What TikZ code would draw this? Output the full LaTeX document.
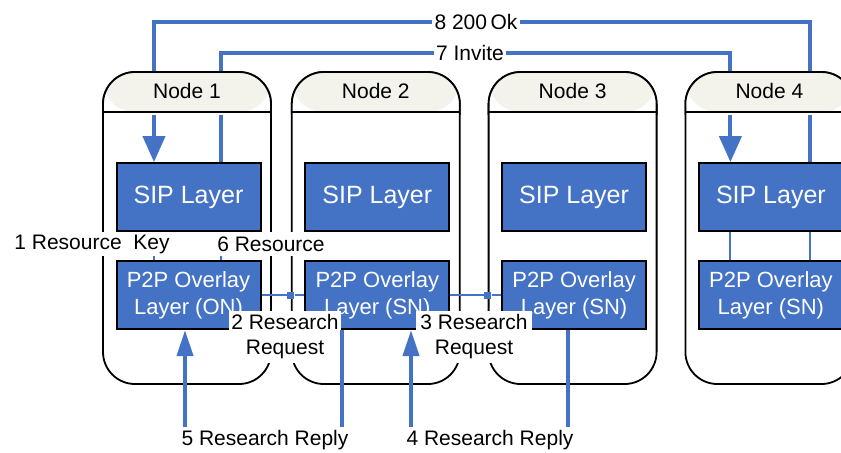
\documentclass[tikz,border=0pt]{standalone}
\usepackage{fontspec}
\setmainfont{Liberation Sans}
\usetikzlibrary{arrows.meta,positioning}

\definecolor{sipblue}{RGB}{68,114,196}
\definecolor{headgray}{RGB}{243,243,236}

\tikzset{
	host/.style={draw=black, line width=0.9pt, fill=white, rounded corners=16pt,
		minimum width=84pt, minimum height=156pt, inner sep=0pt,
		path picture={
			\fill[headgray] (path picture bounding box.north west) rectangle ([yshift=-20pt]path picture bounding box.north east);
			\draw[line width=0.9pt] ([yshift=-20pt]path picture bounding box.north west) -- ([yshift=-20pt]path picture bounding box.north east);}},
	hosttext/.style={font=\fontsize{10.5}{12}\selectfont},
	sip/.style={draw=black, line width=1pt, fill=sipblue, text=white, minimum width=72pt, minimum height=34pt,
		inner sep=0pt, font=\fontsize{12.5}{14}\selectfont},
	overlay/.style={sip, align=center, font=\fontsize{11}{13.5}\selectfont},
	msg/.style={fill=white, inner sep=1pt, font=\fontsize{10.5}{12.5}\selectfont, align=center},
	flow/.style={draw=sipblue, line width=2pt},
	link/.style={draw=sipblue, line width=1pt},
	port/.style={fill=sipblue, minimum size=3.5pt, inner sep=0pt},
	tip/.style={-{Triangle[length=13pt,width=11pt]}},
	smalltip/.style={-{Triangle[length=13pt,width=8pt]}}
}

\begin{document}
\begin{tikzpicture}[x=0.5pt, y=-0.5pt]
	\clip (0,0) rectangle (841,452);

	% the four hosts
	\node[host] (n1) at (187,228) {};
	\node[host] (n2) [right=9.5pt of n1] {};
	\node[host] (n3) [right=13.5pt of n2] {};
	\node[host] (n4) [right=13.5pt of n3] {};

	% layers
	\node[sip] (sip1) [below=45.5pt of n1.north, xshift=0.75pt] {SIP Layer};
	\node[sip] (sip2) [below=45.5pt of n2.north, xshift=0.75pt] {SIP Layer};
	\node[sip] (sip3) [below=45.5pt of n3.north, xshift=0.75pt] {SIP Layer};
	\node[sip] (sip4) [below=45.5pt of n4.north, xshift=0.75pt] {SIP Layer};

	\node[overlay] (p2p1) [below=14pt of sip1] {P2P Overlay\\Layer (ON)};
	\node[overlay] (p2p2) [below=14pt of sip2] {P2P Overlay\\Layer (SN)};
	\node[overlay] (p2p3) [below=14pt of sip3] {P2P Overlay\\Layer (SN)};
	\node[overlay] (p2p4) [below=14pt of sip4] {P2P Overlay\\Layer (SN)};

	% links inside the hosts
	\draw[link] ([xshift=-17.25pt]sip1.south) -- ([xshift=-17.25pt]p2p1.north);
	\draw[link] ([xshift=16.25pt]sip1.south) -- ([xshift=16.25pt]p2p1.north);
	\draw[link] ([xshift=-20.25pt]sip4.south) -- ([xshift=-20.25pt]p2p4.north);
	\draw[link] ([xshift=19.75pt]sip4.south) -- ([xshift=19.75pt]p2p4.north);

	% overlay links
	\node[port] (d2) at (n2.west |- p2p2) {};
	\node[port] (d3) at (n3.west |- p2p3) {};
	\draw[link] (p2p1.east) -- (d2) -- (p2p2.west);
	\draw[link] (p2p2.east) -- (d3) -- (p2p3.west);

	% messages
	\node[msg, minimum height=12pt] (rk) at (92,244) {1 Resource\ \ Key};
	\node[msg, minimum height=12pt] (rs) at (271,244) {6 Resource};
	\node[msg, minimum width=56pt, minimum height=26pt, inner sep=0pt] (rq2) at (285,337) {2 Research\\Request};
	\node[msg, minimum width=58pt, minimum height=26pt, inner sep=0pt] (rq3) at (474,337) {3 Research\\Request};
	\node[msg] (rp5) at (265,440) {5 Research Reply};
	\node[msg] (rp4) at (490,440) {4 Research Reply};
	\node[msg] (ok) at (476,22) {8 200\,Ok};
	\node[msg] (inv) at (470,53) {7 Invite};

	\draw[flow] ([xshift=19.75pt]sip4.north) |- (ok.east);
	\draw[flow, tip] (ok.west) -| ([xshift=-17.25pt]sip1.north);
	\draw[flow] ([xshift=16.25pt]sip1.north) |- (inv.west);
	\draw[flow, tip] (inv.east) -| ([xshift=-20.25pt]sip4.north);

	\coordinate (a5) at (185,427);
	\coordinate (b5) at (342,427);
	\coordinate (a4) at (411,427);
	\coordinate (b4) at (568,427);
	\draw[flow, smalltip] (a5) -- (a5 |- p2p1.south);
	\draw[flow] (p2p2.south -| b5) -- (b5);
	\draw[flow, smalltip] (a4) -- (a4 |- p2p2.south);
	\draw[flow] (p2p3.south -| b4) -- (b4);

	% headers go over the flows
	\begin{scope}
		\clip (0,0) rectangle (841,114);
		\foreach \n in {1,...,4}
			\node[host] at (n\n) {};
	\end{scope}
	\node[hosttext] (t1) at ([yshift=-10pt]n1.north) {Node 1};
	\node[hosttext] (t2) at ([yshift=-10pt]n2.north) {Node 2};
	\node[hosttext] (t3) at ([yshift=-10pt]n3.north) {Node 3};
	\node[hosttext] (t4) at ([yshift=-10pt]n4.north) {Node 4};
\end{tikzpicture}
\end{document}
